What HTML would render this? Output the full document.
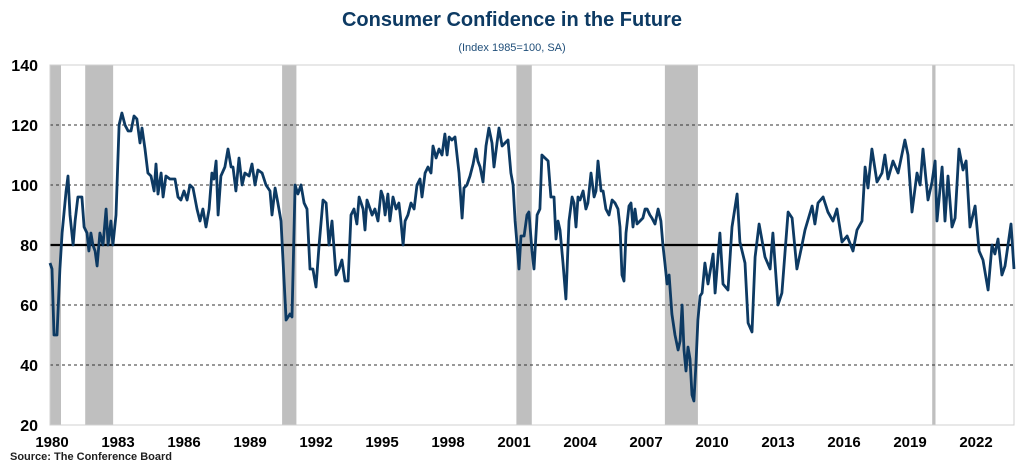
<!DOCTYPE html>
<html><head><meta charset="utf-8"><style>
html,body{margin:0;padding:0;background:#fff;}
body{width:1024px;height:465px;overflow:hidden;font-family:"Liberation Sans",Arial,sans-serif;}
</style></head><body>
<svg id="chart" width="1024" height="465" xmlns="http://www.w3.org/2000/svg" style="font-family:'Liberation Sans',Arial,sans-serif">
<text x="512" y="26" text-anchor="middle" font-size="20" font-weight="bold" fill="#0d3a63">Consumer Confidence in the Future</text>
<text x="512" y="51" text-anchor="middle" font-size="11" fill="#1f4e79">(Index 1985=100, SA)</text>
<g id="rec"></g>
<g id="grid"></g>
<rect x="50" y="65" width="964" height="360" fill="none" stroke="#d0d0d0" stroke-width="1"/>
<g id="yax"></g>
<g id="xax"></g>
<g id="ser"></g>
<text x="10" y="460" font-size="11" font-weight="bold" fill="#1f1f1f">Source: The Conference Board</text>
</svg>
<script>
const yTicks=[20,40,60,80,100,120,140];
const xTickYears=[1980,1983,1986,1989,1992,1995,1998,2001,2004,2007,2010,2013,2016,2019,2022];
const recStart=[1980.0,1981.6,1990.55,2001.2,2007.95,2020.1];
const recEnd=[1980.5,1982.87,1991.2,2001.9,2009.45,2020.25];
const baseline=80;
const tOffset=[0,.09,.18,.32,.45,.55,.73,.82,.91,1.05,1.14,1.27,1.45,1.55,1.68,1.77,1.86,1.95,2.05,2.14,2.27,2.41,2.55,2.64,2.77,2.86,3.0,3.14,3.27,3.41,3.55,3.68,3.82,3.95,4.09,4.18,4.32,4.45,4.59,4.73,4.82,4.91,5.05,5.14,5.27,5.45,5.68,5.82,5.95,6.09,6.23,6.36,6.5,6.68,6.82,6.95,7.09,7.23,7.36,7.45,7.55,7.64,7.77,7.95,8.09,8.23,8.32,8.45,8.59,8.73,8.86,9.05,9.18,9.32,9.45,9.64,9.82,10.0,10.09,10.23,10.36,10.5,10.59,10.73,10.91,11.0,11.14,11.27,11.41,11.55,11.68,11.82,11.95,12.09,12.23,12.41,12.55,12.68,12.82,13.0,13.14,13.27,13.41,13.55,13.68,13.82,13.95,14.05,14.14,14.23,14.32,14.41,14.55,14.64,14.77,14.91,15.05,15.14,15.23,15.36,15.45,15.59,15.73,15.86,15.95,16.05,16.14,16.27,16.41,16.55,16.68,16.82,16.91,17.05,17.18,17.32,17.41,17.55,17.68,17.82,17.95,18.05,18.14,18.27,18.41,18.59,18.73,18.82,18.95,19.09,19.23,19.36,19.45,19.55,19.68,19.82,19.95,20.09,20.18,20.32,20.41,20.55,20.68,20.82,20.95,21.05,21.14,21.23,21.32,21.41,21.55,21.68,21.77,21.91,22.0,22.14,22.27,22.36,22.5,22.64,22.77,22.91,23.0,23.09,23.18,23.32,23.45,23.59,23.73,23.82,23.91,24.0,24.09,24.23,24.36,24.45,24.59,24.73,24.82,24.91,25.05,25.14,25.27,25.41,25.55,25.68,25.82,25.91,26.0,26.09,26.18,26.32,26.41,26.5,26.59,26.68,26.82,26.95,27.05,27.14,27.27,27.36,27.5,27.64,27.77,27.86,27.95,28.05,28.14,28.27,28.41,28.55,28.64,28.73,28.82,28.91,29.0,29.09,29.18,29.27,29.36,29.45,29.55,29.64,29.77,29.91,30.14,30.23,30.45,30.59,30.82,31.0,31.23,31.36,31.59,31.73,31.91,32.05,32.23,32.5,32.73,32.86,33.09,33.27,33.55,33.73,33.95,34.18,34.32,34.64,34.77,34.91,35.14,35.36,35.59,35.77,36.0,36.23,36.5,36.68,36.91,37.05,37.18,37.36,37.59,37.82,37.95,38.09,38.32,38.55,38.86,39.0,39.18,39.41,39.55,39.68,39.91,40.09,40.23,40.32,40.55,40.68,40.82,41.0,41.14,41.32,41.5,41.64,41.82,42.05,42.23,42.41,42.64,42.82,42.95,43.09,43.27,43.41,43.68,43.82];
const values=[74,72,50,50,72,84,98,103,90,80,88,96,96,86,84,78,84,80,78,73,84,80,92,80,88,80,90,120,124,120,118,118,123,122,114,119,112,104,103,98,107,97,104,96,103,102,102,96,95,98,95,100,99,92,88,92,86,92,104,102,108,90,103,106,112,106,106,98,109,100,104,103,107,100,105,104,100,98,90,99,94,88,75,55,57,56,100,97,100,94,92,72,72,66,80,95,94,80,88,70,72,75,68,68,90,92,87,96,94,92,85,95,92,90,92,88,98,96,90,97,88,96,92,94,88,80,88,90,94,92,100,102,96,104,106,104,113,109,112,110,117,110,116,115,116,104,89,99,100,103,107,112,108,106,101,113,119,114,106,114,119,113,114,115,104,100,88,80,72,83,83,90,91,78,72,90,92,110,109,108,96,96,82,88,85,74,62,88,96,94,86,96,95,98,92,94,104,96,98,108,98,98,92,90,95,94,92,86,70,68,84,93,94,86,92,87,88,89,92,92,90,89,87,92,88,80,74,67,70,57,50,45,48,60,45,38,46,42,30,28,40,55,63,64,74,67,77,64,84,67,65,86,97,81,74,54,51,76,87,76,72,84,60,64,91,89,72,80,85,93,87,94,96,91,88,92,81,83,78,85,88,106,99,112,101,104,110,102,108,104,115,110,91,104,100,112,95,101,108,88,106,88,103,86,89,112,105,108,86,93,78,75,65,80,77,82,70,73,87,72];

const NS="http://www.w3.org/2000/svg";
const L=50,R=1014,T=65,B=425;
const xS=t=>L+(t-1980)*22;
const yS=v=>B-(v-20)*(B-T)/120;
function mk(tag,parent){const e=document.createElementNS(NS,tag);document.getElementById(parent).appendChild(e);return e;}

recStart.forEach((s,i)=>{
  const r=mk('rect','rec');
  
  
  r.setAttribute('x',xS(s));r.setAttribute('y',T);
  r.setAttribute('width',Math.max(2,xS(recEnd[i])-xS(s)));r.setAttribute('height',B-T);
  r.setAttribute('fill','#bfbfbf');
});
yTicks.forEach(v=>{
  if(v!==20&&v!==140&&v!==baseline){
    const g=mk('line','grid');
    
    
    g.setAttribute('x1',L);g.setAttribute('x2',R);g.setAttribute('y1',yS(v));g.setAttribute('y2',yS(v));
    g.setAttribute('stroke','#333');g.setAttribute('stroke-width','1');g.setAttribute('stroke-dasharray','3,3');
  }
  const t=mk('text','yax');
  
  
  t.setAttribute('x',38);t.setAttribute('y',yS(v)+6);t.setAttribute('text-anchor','end');
  t.setAttribute('font-size','16');t.setAttribute('font-weight','bold');t.setAttribute('fill','#000');
  t.textContent=v;
});
const bl=mk('line','grid');


bl.setAttribute('x1',L);bl.setAttribute('x2',R);bl.setAttribute('y1',yS(baseline));bl.setAttribute('y2',yS(baseline));
bl.setAttribute('stroke','#000');bl.setAttribute('stroke-width','2.2');
xTickYears.forEach(yr=>{
  const t=mk('text','xax');
  
  
  t.setAttribute('x',xS(yr)+2);t.setAttribute('y',447);t.setAttribute('text-anchor','middle');
  t.setAttribute('font-size','15');t.setAttribute('font-weight','bold');t.setAttribute('fill','#000');
  t.textContent=yr;
});
const p=mk('path','ser');


p.setAttribute('d',values.map((v,i)=>(i?'L':'M')+xS(1980+tOffset[i]).toFixed(1)+','+yS(v).toFixed(1)).join(''));
p.setAttribute('fill','none');p.setAttribute('stroke','#0d3a63');p.setAttribute('stroke-width','2.8');p.setAttribute('stroke-linejoin','round');
</script>
</body></html>
